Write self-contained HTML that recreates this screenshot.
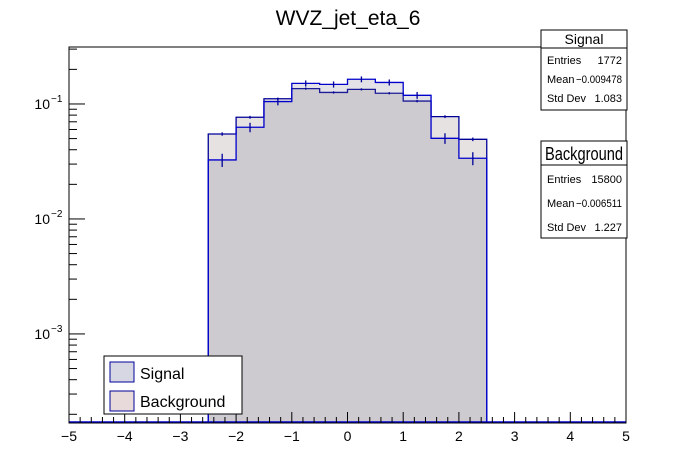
<!DOCTYPE html>
<html><head><meta charset="utf-8"><style>
body{margin:0;background:#fff;}
svg{display:block;font-family:"Liberation Sans",Arial,sans-serif;}
</style></head><body>
<svg id="c" width="696" height="472" viewBox="0 0 696 472">
<text x="348" y="25" font-size="21" text-anchor="middle">WVZ_jet_eta_6</text>
<g id="plot"></g>
<g id="axes"></g>
<g>
<rect x="104" y="356" width="138" height="58" fill="#fff" stroke="#000"/>
<rect x="110" y="362" width="24" height="20" fill="rgb(215,215,228)" stroke="#000099"/>
<text x="140" y="379" font-size="16">Signal</text>
<rect x="110" y="391" width="24" height="20" fill="rgb(232,218,218)" stroke="#000099"/>
<text x="140" y="407" font-size="16">Background</text>
</g>
<g font-size="11">
<line x1="626" y1="110" x2="626" y2="141" stroke="#000"/>
<line x1="626" y1="238" x2="626" y2="250" stroke="#000"/>
<rect x="541" y="30" width="86" height="80" fill="#fff" stroke="#000"/>
<line x1="541" y1="48" x2="627" y2="48" stroke="#000"/>
<text x="584" y="44" font-size="14" text-anchor="middle">Signal</text>
<text x="547" y="64">Entries</text><text x="622" y="64" text-anchor="end">1772</text>
<text x="547" y="83">Mean</text><text x="622" y="83" text-anchor="end" textLength="46" lengthAdjust="spacingAndGlyphs">−0.009478</text>
<text x="547" y="102" textLength="39" lengthAdjust="spacingAndGlyphs">Std Dev</text><text x="622" y="102" text-anchor="end">1.083</text>
</g>
<g font-size="11">
<rect x="541" y="141" width="86" height="97" fill="#fff" stroke="#000"/>
<line x1="541" y1="165" x2="627" y2="165" stroke="#000"/>
<text x="584" y="160" font-size="18" text-anchor="middle" textLength="78" lengthAdjust="spacingAndGlyphs">Background</text>
<text x="547" y="183">Entries</text><text x="622" y="183" text-anchor="end">15800</text>
<text x="547" y="207">Mean</text><text x="622" y="207" text-anchor="end" textLength="46" lengthAdjust="spacingAndGlyphs">−0.006511</text>
<text x="547" y="231" textLength="39" lengthAdjust="spacingAndGlyphs">Std Dev</text><text x="622" y="231" text-anchor="end">1.227</text>
</g>
</svg>
<script>
const binEdgesLow = [-2.5,-2,-1.5,-1,-0.5,0,0.5,1,1.5,2];
const signalValues = [0.0326,0.0627,0.105,0.151,0.148,0.164,0.154,0.119,0.0503,0.0337];
const backgroundValues = [0.0548,0.0766,0.111,0.136,0.126,0.134,0.124,0.106,0.0776,0.0493];
const signalEntries = 1772;
const backgroundEntries = 15800;
const xTicks = [-5,-4,-3,-2,-1,0,1,2,3,4,5];
const yDecades = [-3,-2,-1];

const X0=69,X1=626,Y0=47,Y1=423, BW=0.5;
const xs=v=>X0+(v+5)/10*(X1-X0);
const yMin=Math.log10(1.68e-4), yMax=Math.log10(0.313);
const ys=v=>Y1-(Math.log10(v)-yMin)/(yMax-yMin)*(Y1-Y0);
const NS='http://www.w3.org/2000/svg';
function mk(t,a,p){const e=document.createElementNS(NS,t);for(const k in a)e.setAttribute(k,a[k]);p.appendChild(e);return e;}
const plot=document.getElementById('plot'), axes=document.getElementById('axes');

function hist(vals,fill,stroke,name){
  let d=`M${xs(binEdgesLow[0])},${Y1}`;
  vals.forEach((v,i)=>{d+=` L${xs(binEdgesLow[i])},${ys(v)} L${xs(binEdgesLow[i]+BW)},${ys(v)}`;});
  d+=` L${xs(binEdgesLow[binEdgesLow.length-1]+BW)},${Y1}`;
  const p=mk('path',{d:d+' Z',fill:fill,stroke:'none'},plot);
  
  
  const l=mk('path',{d:d,fill:'none',stroke:stroke,'stroke-width':1.3},plot);
  
  
}
hist(backgroundValues,'rgba(140,125,125,0.22)','#000099','background-hist');
hist(signalValues,'rgba(125,125,145,0.22)','#0000cc','signal-hist');
const zl=mk('line',{x1:X0,y1:Y1-1,x2:X1,y2:Y1-1,stroke:'#0000cc','stroke-width':1.5},plot);


function errs(vals,N,name){
  vals.forEach((v,i)=>{
    const e=v/Math.sqrt(N*v), cx=xs(binEdgesLow[i]+BW/2);
    const g=mk('path',{d:`M${cx},${ys(v+e)} L${cx},${ys(Math.max(v-e,1e-6))}`,stroke:'#000099','stroke-width':1.3,fill:'none'},plot);
    
    
  });
}
errs(signalValues,signalEntries,'signal');
errs(backgroundValues,backgroundEntries,'background');

const fr=mk('rect',{x:X0,y:Y0,width:X1-X0,height:Y1-Y0,fill:'none',stroke:'#000'},axes);


for(let k=0;k<=50;k++){const v=-5+k*0.2,x=xs(v),maj=k%5===0;
  mk('line',{x1:x,y1:Y1,x2:x,y2:Y1-(maj?11:6),stroke:'#000'},axes);}
xTicks.forEach(v=>{const t=mk('text',{x:xs(v),y:Y1+18,'font-size':14,'text-anchor':'middle'},axes);
  t.textContent=v<0?'−'+(-v):String(v);
  
  });
for(let d=-4;d<=-1;d++){for(let m=1;m<=9;m++){const v=m*Math.pow(10,d);
  if(v<1.68e-4||v>0.313)continue;const y=ys(v);
  mk('line',{x1:X0,y1:y,x2:X0+(m===1?16:8),y2:y,stroke:'#000'},axes);}}
yDecades.forEach(d=>{const y=ys(Math.pow(10,d));
  const t=mk('text',{x:50,y:y+5,'font-size':14,'text-anchor':'end'},axes);
  t.textContent='10';
  
  
  const s=mk('text',{x:51,y:y-2,'font-size':10},axes);
  s.textContent='−'+(-d);
  
  });
</script>
</body></html>
